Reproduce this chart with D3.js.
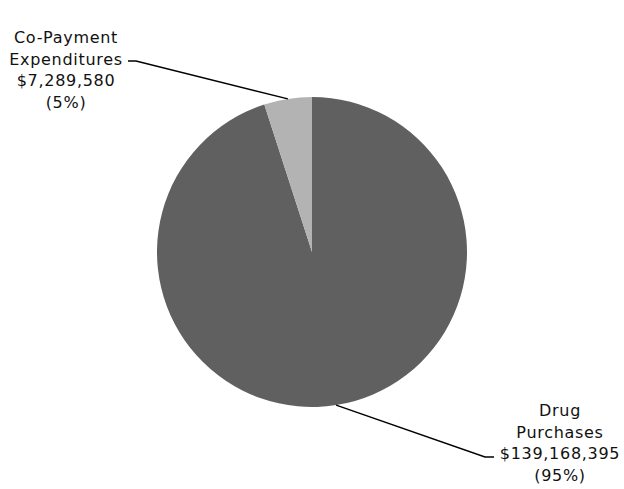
<!DOCTYPE html>
<html>
<head>
<meta charset="utf-8">
<script src="https://cdn.jsdelivr.net/npm/d3@7"></script>
<style>
  html, body { margin: 0; padding: 0; background: #fff; }
  svg { display: block; }
  text { font-family: "DejaVu Sans", Verdana, sans-serif; font-size: 16px; letter-spacing: 0.7px; fill: #111; }
</style>
</head>
<body>
<script>
// Expenditure breakdown
const categories = ["Drug Purchases", "Co-Payment Expenditures"];
const labelLines = [["Drug", "Purchases"], ["Co-Payment", "Expenditures"]];
const amounts = [139168395, 7289580];
const percentLabels = ["95%", "5%"];
const colors = ["#606060", "#b3b3b3"];

const width = 624, height = 489;
const cx = 312, cy = 252, radius = 155;

const svg = d3.select("body").append("svg")
  .attr("width", width).attr("height", height);

const pie = d3.pie().sort(null).value(d => d)(amounts);
const arc = d3.arc().innerRadius(0).outerRadius(radius);

const g = svg.append("g").attr("transform", `translate(${cx},${cy})`);

g.selectAll("path.slice")
  .data(pie)
  .join("path")
  .attr("class", "slice")
  .attr("d", arc)
  .attr("fill", (d, i) => colors[i]);

// Leader-line geometry: where each callout sits, relative to the pie centre
const callouts = [
  { elbow: [173, 205], end: [182, 205], anchor: [248, 164] },
  { elbow: [-176, -191], end: [-184, -191], anchor: [-246, -209] }
];

const edge = d3.arc().innerRadius(radius).outerRadius(radius);
const fmt = d3.format(",");

pie.forEach((d, i) => {
  const c = callouts[i];
  const p = edge.centroid(d);
  g.append("polyline")
    .attr("points", [p, c.elbow, c.end].map(q => q.join(",")).join(" "))
    .attr("fill", "none")
    .attr("stroke", "#000")
    .attr("stroke-width", 1.5);

  const lines = [...labelLines[i], "$" + fmt(amounts[i]), "(" + percentLabels[i] + ")"];
  const t = g.append("text")
    .attr("text-anchor", "middle")
    .attr("transform", `translate(${c.anchor[0]},${c.anchor[1]})`);
  lines.forEach((s, k) => {
    t.append("tspan").attr("x", 0).attr("y", k * 21.7).text(s);
  });
});
</script>
</body>
</html>
